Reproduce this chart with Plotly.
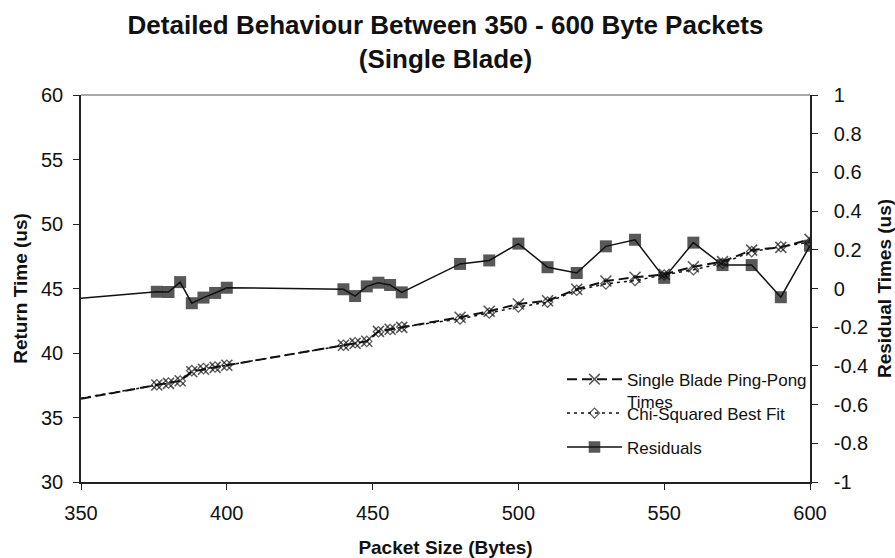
import plotly.graph_objects as go

# Packet sizes (bytes) and measured / fitted return times (us)
packet_size = [350, 376, 380, 384, 388, 392, 396, 400, 440, 444, 448, 452, 456, 460,
               480, 490, 500, 510, 520, 530, 540, 550, 560, 570, 580, 590, 600]
ping_pong = [36.45, 37.52, 37.65, 37.85, 38.55, 38.74, 38.89, 39.05, 40.60, 40.75, 40.91,
             41.68, 41.84, 41.99, 42.77, 43.24, 43.80, 44.05, 44.94, 45.58, 45.87, 46.10,
             46.69, 47.08, 47.98, 48.19, 48.81]
chi_fit = [36.50, 37.54, 37.67, 37.82, 38.63, 38.79, 38.91, 39.05, 40.60, 40.79, 40.90,
           41.65, 41.82, 42.01, 42.64, 43.10, 43.57, 43.94, 44.86, 45.36, 45.62, 46.05,
           46.45, 46.96, 47.86, 48.24, 48.59]
residuals = [-0.051, -0.017, -0.018, 0.033, -0.076, -0.047, -0.023, 0.004, -0.004, -0.039,
             0.011, 0.030, 0.018, -0.020, 0.127, 0.145, 0.232, 0.110, 0.080, 0.218, 0.252,
             0.055, 0.237, 0.121, 0.121, -0.045, 0.221]

x_ticks = [350, 400, 450, 500, 550, 600]
left_ticks = [30, 35, 40, 45, 50, 55, 60]
right_tick_vals = [-1, -0.8, -0.6, -0.4, -0.2, 0, 0.2, 0.4, 0.6, 0.8, 1]
right_tick_text = ["-1", "-0.8", "-0.6", "-0.4", "-0.2", "0", "0.2", "0.4", "0.6", "0.8", "1"]

FONT = "Liberation Sans, Arial, sans-serif"
INK = "#111111"

# the first sample only carries the lines in from the left edge
def marker_sizes(size):
    return [0] + [size] * (len(packet_size) - 1)

fig = go.Figure()

fig.add_trace(go.Scatter(
    x=packet_size, y=ping_pong, name="Single Blade Ping-Pong<br>Times",
    mode="lines+markers", legend="legend",
    line=dict(color=INK, width=2, dash="10px,5px"),
    marker=dict(symbol="x-thin-open", size=marker_sizes(11), color=INK,
                line=dict(color=INK, width=1.6)),
))
fig.add_trace(go.Scatter(
    x=packet_size, y=chi_fit, name="Chi-Squared Best Fit",
    mode="lines+markers", legend="legend2",
    line=dict(color=INK, width=1.5, dash="3px,4px"),
    marker=dict(symbol="diamond-open", size=marker_sizes(8), color=INK,
                line=dict(color=INK, width=1.2)),
))
fig.add_trace(go.Scatter(
    x=packet_size, y=residuals, name="Residuals", yaxis="y2",
    mode="lines+markers", legend="legend3",
    line=dict(color=INK, width=1.5),
    marker=dict(symbol="square", size=marker_sizes(12), color=INK,
                line=dict(color=INK, width=0)),
))

tick_font = dict(family=FONT, size=20, color="#111")
title_font = dict(family=FONT, size=19, color="#111")
legend_common = dict(
    xanchor="left", yanchor="top", x=0.6598, bgcolor="rgba(0,0,0,0)",
    font=dict(family=FONT, size=17, color="#111"), itemwidth=55, valign="top",
    borderwidth=0, visible=True,
)

fig.update_layout(
    width=895, height=558,
    margin=dict(l=81, r=85, t=95, b=76, autoexpand=False),
    paper_bgcolor="white", plot_bgcolor="white",
    showlegend=True,
    title=dict(
        text="<b>Detailed Behaviour Between 350 - 600 Byte Packets<br>(Single Blade)</b>",
        font=dict(family=FONT, size=26, color="#111"),
        x=0.5, xref="paper", xanchor="center",
        y=1 - 34 / 558, yref="container", yanchor="top",
    ),
    xaxis=dict(
        range=[350, 600], tickvals=x_ticks, showgrid=False, zeroline=False,
        showline=True, linecolor="#222", linewidth=1.5, automargin=False,
        ticks="outside", ticklen=6, tickcolor="#222", tickfont=tick_font,
        ticklabelstandoff=6,
        title=dict(text="<b>Packet Size (Bytes)</b>", font=title_font, standoff=24),
    ),
    yaxis=dict(
        range=[30, 60], tickvals=left_ticks, showgrid=False, zeroline=False,
        showline=True, linecolor="#222", linewidth=1.5, automargin=False,
        ticks="outside", ticklen=6, tickcolor="#222", tickfont=tick_font,
        ticklabelstandoff=6,
        title=dict(text="<b>Return Time (us)</b>", font=title_font, standoff=8),
    ),
    yaxis2=dict(
        range=[-1, 1], tickvals=right_tick_vals, ticktext=right_tick_text,
        overlaying="y", side="right", showgrid=False, zeroline=False,
        showline=True, linecolor="#222", linewidth=1.5, automargin=False,
        ticks="outside", ticklen=6, tickcolor="#222", tickfont=tick_font,
        ticklabelstandoff=12,
        title=dict(text="<b>Residual Times (us)</b>", font=title_font, standoff=14),
    ),
    legend=dict(y=0.311, **legend_common),
    legend2=dict(y=0.2235, **legend_common),
    legend3=dict(y=0.1356, **legend_common),
    shapes=[dict(type="line", xref="paper", yref="paper", x0=0, x1=1, y0=1, y1=1,
                 line=dict(color="#8c8c8c", width=1.5))],
)

fig.write_html("out.html")
